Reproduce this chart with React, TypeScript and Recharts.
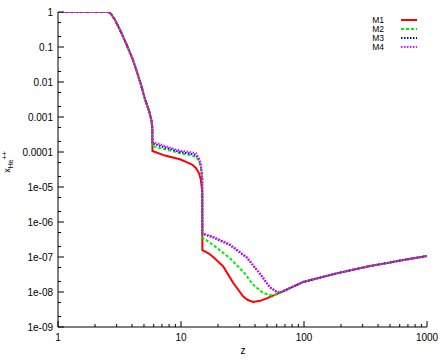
import React from 'react';
import { LineChart, Line, XAxis, YAxis, Legend } from 'recharts';

const FONT = '"Liberation Sans Narrow", "Liberation Sans", Arial, sans-serif';

// tick values / labels
const xMajorTicks = [1, 10, 100, 1000];
const xTickLabels = ['1', '10', '100', '1000'];
const yMajorTicks = [1, 0.1, 0.01, 0.001, 0.0001, 1e-5, 1e-6, 1e-7, 1e-8, 1e-9];
const yTickLabels = ['1', '0.1', '0.01', '0.001', '0.0001', '1e-05', '1e-06', '1e-07', '1e-08', '1e-09'];
const xMinorMultipliers = [2, 3, 4, 5, 6, 7, 8, 9];
const yMinorMultipliers = [2, 5];

// shared early decline (all models)
const headZ = [1, 2.5, 2.6, 2.7, 2.9, 3.1, 3.3, 3.6, 4.0, 4.3, 4.7, 5.1, 5.5, 5.75, 5.84];
const headV = [1, 1, 0.98, 0.88, 0.6, 0.38, 0.24, 0.12, 0.05, 0.024, 0.009, 0.0032, 0.0015, 0.0008, 0.0005];

// shared late tail (all models)
const tailZ = [64, 80, 98.7, 140, 184, 260, 344, 480, 641, 1000];
const tailV = [9.6e-9, 1.38e-8, 1.94e-8, 2.66e-8, 3.4e-8, 4.45e-8, 5.5e-8, 6.8e-8, 8.2e-8, 1.07e-7];

// M1
const m1Z = [5.86, 7.41, 9.8, 11.0, 12.3, 13.2, 14.0, 14.5, 14.88, 14.92, 16.6, 18.3, 22.1, 26.6, 32.1, 35, 38.7, 44, 49.7];
const m1V = [1.07e-4, 7.9e-5, 6.2e-5, 5.2e-5, 4.4e-5, 3.5e-5, 2.5e-5, 1.6e-5, 7.2e-6, 1.58e-7, 1.3e-7, 1.0e-7, 5.3e-8, 1.8e-8, 7.4e-9, 5.9e-9, 5.2e-9, 5.6e-9, 6.6e-9];

// M2
const m2Z = [5.86, 7.41, 9.8, 11.8, 13.2, 14.0, 14.5, 14.88, 14.92, 18.3, 25, 32.1, 38.7, 46.7, 56.3];
const m2V = [1.45e-4, 1.2e-4, 9.2e-5, 8.2e-5, 7.2e-5, 5.7e-5, 3.7e-5, 1.8e-5, 3.6e-7, 2.2e-7, 9.2e-8, 3.8e-8, 1.6e-8, 9.2e-9, 7.8e-9];

// M3
const m3Z = [5.86, 7.41, 9.8, 11.8, 13.2, 14.0, 14.5, 14.88, 14.92, 18.3, 25, 34.2, 43.8, 52.9, 60];
const m3V = [1.75e-4, 1.35e-4, 1.0e-4, 9.0e-5, 8.2e-5, 6.3e-5, 4.0e-5, 1.8e-5, 4.6e-7, 3.6e-7, 2.2e-7, 9.6e-8, 3.3e-8, 1.35e-8, 1.0e-8];

// M4
const m4Z = [5.86, 7.41, 9.8, 11.8, 13.2, 14.0, 14.5, 14.88, 14.92, 18.3, 25, 34.2, 43.8, 52.9, 60];
const m4V = [1.97e-4, 1.48e-4, 1.09e-4, 1.0e-4, 9.2e-5, 6.7e-5, 4.3e-5, 1.8e-5, 4.8e-7, 3.8e-7, 2.3e-7, 1.0e-7, 3.4e-8, 1.4e-8, 1.02e-8];

const build = (z: number[], v: number[]) => {
  const zs = [...headZ, ...z, ...tailZ];
  const vs = [...headV, ...v, ...tailV];
  return zs.map((zz, i) => ({ z: zz, v: vs[i] }));
};

const series = [
  { name: 'M1', data: build(m1Z, m1V), color: '#ff0000', dash: undefined as string | undefined },
  { name: 'M2', data: build(m2Z, m2V), color: '#00ee00', dash: '3 2' },
  { name: 'M3', data: build(m3Z, m3V), color: '#0000ff', dash: '1.5 1.5' },
  { name: 'M4', data: build(m4Z, m4V), color: '#ff00ff', dash: '1.5 1.5' },
];

const xTicks: number[] = [];
[1, 10, 100].forEach((d) => {
  xTicks.push(d);
  xMinorMultipliers.forEach((m) => xTicks.push(d * m));
});
xTicks.push(1000);

const yTicks: number[] = [];
[1e-9, 1e-8, 1e-7, 1e-6, 1e-5, 1e-4, 1e-3, 1e-2, 1e-1].forEach((d) => {
  yTicks.push(d);
  yMinorMultipliers.forEach((m) => yTicks.push(d * m));
});
yTicks.push(1);

const findIdx = (arr: number[], v: number) => arr.findIndex((t) => Math.abs(t - v) / t < 1e-6);

const BottomTick = (props: any) => {
  const { x, y, payload } = props;
  const idx = findIdx(xMajorTicks, payload.value);
  const major = idx >= 0;
  return (
    <g>
      <line x1={x} x2={x} y1={y} y2={y - (major ? 6 : 3)} stroke="#000" strokeWidth={1} />
      {major && (
        <text x={x} y={y + 14} textAnchor="middle" fontSize={10} fontFamily={FONT} fill="#000">
          {xTickLabels[idx]}
        </text>
      )}
    </g>
  );
};

const TopTick = (props: any) => {
  const { x, y, payload } = props;
  const major = findIdx(xMajorTicks, payload.value) >= 0;
  return <line x1={x} x2={x} y1={y} y2={y + (major ? 6 : 3)} stroke="#000" strokeWidth={1} />;
};

const LeftTick = (props: any) => {
  const { x, y, payload } = props;
  const idx = findIdx(yMajorTicks, payload.value);
  const major = idx >= 0;
  return (
    <g>
      <line x1={x} x2={x + (major ? 6 : 3)} y1={y} y2={y} stroke="#000" strokeWidth={1} />
      {major && (
        <text x={x - 5} y={y} dy="0.35em" textAnchor="end" fontSize={10} fontFamily={FONT} fill="#000">
          {yTickLabels[idx]}
        </text>
      )}
    </g>
  );
};

const RightTick = (props: any) => {
  const { x, y, payload } = props;
  const major = findIdx(yMajorTicks, payload.value) >= 0;
  return <line x1={x} x2={x - (major ? 6 : 3)} y1={y} y2={y} stroke="#000" strokeWidth={1} />;
};

const renderLegend = () => (
  <svg width={70} height={48} style={{ display: 'block' }}>
    {series.map((s, i) => {
      const cy = 8 + i * 9;
      return (
        <g key={s.name}>
          <text x={24} y={cy} dy="0.35em" textAnchor="end" fontSize={8.5} fontFamily={FONT} fill="#000">
            {s.name}
          </text>
          <line x1={41} x2={57} y1={cy} y2={cy} stroke={s.color} strokeWidth={2} strokeDasharray={s.dash} />
        </g>
      );
    })}
  </svg>
);

const YLabel = () => (
  <text transform="rotate(-90)" x={-162} y={10} textAnchor="middle" fontSize={9} fontFamily={FONT} fill="#000">
    x
    <tspan dy={2.5} fontSize={7}>He</tspan>
    <tspan dy={-6} fontSize={7}>++</tspan>
  </text>
);

const XLabel = () => (
  <text x={243} y={354} textAnchor="middle" fontSize={10} fontFamily={FONT} fill="#000">
    z
  </text>
);

export default function App() {
  return (
    <div style={{ position: 'absolute', left: 0, top: 0, width: 443, height: 360, background: '#fff' }}>
      <LineChart width={443} height={360} margin={{ top: 12, right: 16, bottom: 0, left: 0 }}>
        <XAxis
          dataKey="z"
          type="number"
          scale="log"
          domain={[1, 1000]}
          allowDataOverflow
          ticks={xTicks}
          interval={0}
          height={33}
          tickSize={0}
          tickMargin={0}
          tickLine={false}
          tick={<BottomTick />}
          axisLine={{ stroke: '#000', strokeWidth: 1 }}
          label={<XLabel />}
        />
        <XAxis
          xAxisId="top"
          orientation="top"
          dataKey="z"
          type="number"
          scale="log"
          domain={[1, 1000]}
          allowDataOverflow
          ticks={xTicks}
          interval={0}
          height={0}
          tickSize={0}
          tickMargin={0}
          tickLine={false}
          tick={<TopTick />}
          axisLine={{ stroke: '#777', strokeWidth: 1 }}
        />
        <YAxis
          type="number"
          scale="log"
          domain={[1e-9, 1]}
          allowDataOverflow
          ticks={yTicks}
          interval={0}
          width={58}
          tickSize={0}
          tickMargin={0}
          tickLine={false}
          tick={<LeftTick />}
          axisLine={{ stroke: '#000', strokeWidth: 1 }}
          label={<YLabel />}
        />
        <YAxis
          yAxisId="right"
          orientation="right"
          type="number"
          scale="log"
          domain={[1e-9, 1]}
          allowDataOverflow
          ticks={yTicks}
          interval={0}
          width={0}
          tickSize={0}
          tickMargin={0}
          tickLine={false}
          tick={<RightTick />}
          axisLine={{ stroke: '#333', strokeWidth: 1 }}
        />
        <Legend
          layout="vertical"
          align="center"
          verticalAlign="middle"
          content={renderLegend}
          wrapperStyle={{ top: 12, left: 360, width: 70, height: 48 }}
        />
        {series.map((s) => (
          <Line
            key={s.name}
            data={s.data}
            dataKey="v"
            name={s.name}
            type="linear"
            stroke={s.color}
            strokeWidth={2}
            strokeDasharray={s.dash}
            dot={false}
            activeDot={false}
            isAnimationActive={false}
          />
        ))}
      </LineChart>
    </div>
  );
}
